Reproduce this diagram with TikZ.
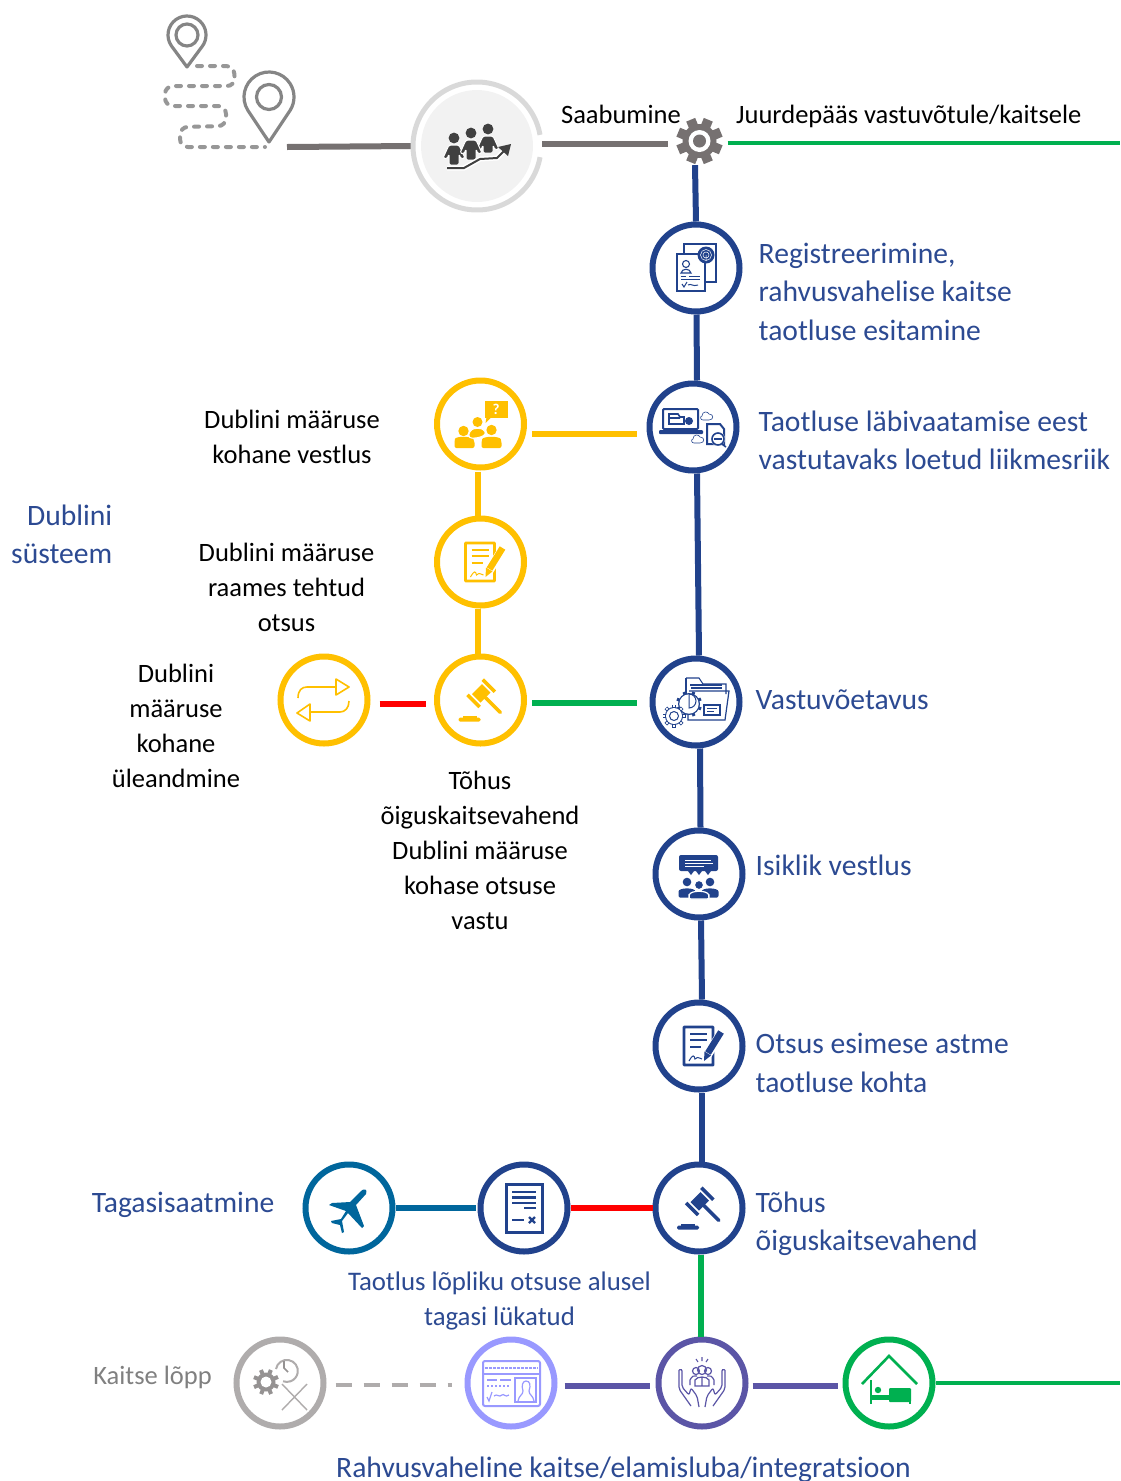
\documentclass[tikz,border=0pt]{standalone}
\usepackage{fontspec}
\setmainfont{Carlito}
\usetikzlibrary{calc}
\definecolor{navy}{HTML}{21428C}
\definecolor{navytext}{HTML}{2C4A92}
\definecolor{gold}{HTML}{FFC000}
\definecolor{emer}{HTML}{00B050}
\definecolor{teal2}{HTML}{00669C}
\definecolor{lav}{HTML}{9999FF}
\definecolor{purp}{HTML}{5B55A6}
\definecolor{gr}{HTML}{AFACAC}
\definecolor{pinc}{HTML}{858585}
\definecolor{linegray}{HTML}{767171}
\tikzset{
 x=1pt,y=-1pt,
 ring/.style={circle,draw=#1,line width=6pt,minimum size=87pt,inner sep=0pt,fill=white},
 conn/.style={line width=#1},
 blk/.style={font=\fontsize{26.5}{35}\selectfont,align=center,text=black,inner sep=0pt},
 blu/.style={font=\fontsize{29.6}{38.5}\selectfont,align=left,anchor=west,text=navytext,inner sep=0pt},
 bluc/.style={font=\fontsize{26.8}{35}\selectfont,align=center,text=navytext,inner sep=0pt},
 pics/gavel/.style={code={
  \begin{scope}[shift={(0.7,-6.7)},rotate=45]
   \fill[#1] (-7,-6) rectangle (7,6);
   \fill[#1] (-12.5,-8.5) rectangle (-9,8.5);
   \fill[#1] (9,-8.5) rectangle (12.5,8.5);
   \draw[#1,line width=3.5pt,line cap=round] (0,6) -- (0,27);
  \end{scope}
  \fill[#1,rounded corners=1.5pt] (-22,17.5) rectangle (0,21.5);
  \fill[#1] (-18,15.5) rectangle (-4,18);
 }},
 pics/docpen/.style={code={
  \draw[#1,line width=2.8pt,rounded corners=.5pt] (-15,-19) rectangle (14,19);
  \draw[#1,line width=2.6pt] (-9,-12) -- (8,-12) (-9,-6) -- (8,-6) (-9,1) -- (2,1);
  \draw[#1,line width=1pt] (-10,15) .. controls (-6,8) and (-5,9) .. (-4,13) .. controls (-2,11) .. (3,13);
  \draw[white,line width=9pt] (23,-14) -- (7,11);
  \draw[#1,line width=6.5pt] (22,-14) -- (9,7);
  \fill[#1] (5.5,5.5) -- (12,9.5) -- (5,15) -- cycle;
 }}
}
\newcommand{\gearshape}[6]{% x,y,R,r,hole,colour
 \foreach \a in {0,45,...,315}{\draw[#6,line width=#3*0.42pt] (#1,#2) -- ++(\a+22.5:#3);}
 \fill[#6] (#1,#2) circle (#4);
 \fill[white] (#1,#2) circle (#5);
}
\newcommand{\person}[5]{% x,y,head r,body half width,colour
 \fill[#5] (#1,#2) circle (#3);
 \fill[#5,rounded corners=2pt] ({#1-#4},{#2+#3*2+7}) -- ({#1-#4},{#2+#3*2+3}) .. controls ({#1-#4},{#2+#3+1}) and ({#1+#4},{#2+#3+1}) .. ({#1+#4},{#2+#3*2+3}) -- ({#1+#4},{#2+#3*2+7}) -- cycle;
}
\newcommand{\walker}[3]{% head x,y, total height
 \draw[white,line width=1pt,fill=black!75,line join=round,rounded corners=1.5pt]
   ({#1-5},{#2+7}) -- ({#1+5},{#2+7}) -- ({#1+11},{#2+20}) -- ({#1+7},{#2+21}) -- ({#1+5},{#2+16}) -- ({#1+5},{#2+#3}) -- ({#1-5},{#2+#3}) -- ({#1-5},{#2+16}) -- ({#1-7},{#2+21}) -- ({#1-11},{#2+20}) -- cycle;
 \fill[black!75] (#1,#2) circle (5.4);
}
\begin{document}
\begin{tikzpicture}
\useasboundingbox (0,0) rectangle (1120,1481);
\clip (0,0) rectangle (1120,1481);

% ---- hidden anchors
\coordinate (pinend) at (287,147);
\coordinate (rightA) at (1120,143);
\coordinate (rightB) at (1120,1383);

% ---- top pins and route
\draw[pinc,line width=3.2pt,line join=round] (187,67) -- ($(187,35)+(145:19)$) arc[start angle=145,end angle=395,radius=19] -- cycle;
\draw[pinc,line width=3.2pt] (187,35) circle (11);
\draw[pinc,line width=3.2pt,line join=round] (269,142) -- ($(269,97)+(148:25)$) arc[start angle=148,end angle=392,radius=25] -- cycle;
\draw[pinc,line width=3.2pt] (269,97) circle (12.5);
\draw[pinc!85,line width=4pt,line cap=round,dash pattern=on 5pt off 8pt,rounded corners=8pt]
  (197,66) -- (234,66) -- (235,86) -- (165,86) -- (165,106) -- (226,106) -- (226,126) -- (180,127) -- (180,147) -- (265,147);

% ---- nodes
\node[circle,fill=black!5,minimum size=112pt,inner sep=0pt] (arr) at (477,146) {};
\node[circle,minimum size=46pt,inner sep=0pt] (gear) at (699.5,141) {};
\node[ring=navy] (c1) at (696,268) {};
\node[ring=navy] (c2) at (693,427) {};
\node[ring=gold] (y1) at (480.5,424) {};
\node[ring=gold] (y2) at (480.5,562) {};
\node[ring=gold] (y3) at (480.5,700) {};
\node[ring=gold] (y4) at (324,700) {};
\node[ring=navy] (va) at (696,702) {};
\node[ring=navy] (is) at (699,874) {};
\node[ring=navy] (ot) at (699,1046) {};
\node[ring=navy] (co) at (699,1208) {};
\node[ring=navy] (dx) at (524,1208) {};
\node[ring=teal2] (pl) at (349,1208) {};
\node[ring=gr] (g1) at (280,1383) {};
\node[ring=lav] (g2) at (511,1383) {};
\node[ring=purp] (g3) at (702,1383) {};
\node[ring=emer] (g4) at (889,1383) {};

% ---- connectors
\draw[linegray,conn=6pt] (pinend) -- ([xshift=-9pt]arr.west);
\draw[linegray,conn=6pt] ([xshift=9pt,yshift=2pt]arr.east) -- ([xshift=-8pt,yshift=-3pt]gear.west);
\draw[black!15,line width=5pt] ($(477,146)+(10:64)$) arc[start angle=10,end angle=350,radius=64];
\draw[emer,conn=4pt] ([xshift=5pt,yshift=-2pt]gear.east) -- (rightA);
\draw[navy,conn=6pt] ([xshift=-4.5pt,yshift=-1pt]gear.south) -- (c1.north);
\draw[navy,conn=6pt] ([xshift=.5pt]c1.south) -- ([xshift=4pt]c2.north);
\draw[navy,conn=6pt] ([xshift=4pt]c2.south) -- ([xshift=3pt]va.north);
\draw[navy,conn=6pt] ([xshift=4pt]va.south) -- ([xshift=1.5pt]is.north);
\draw[navy,conn=6pt] ([xshift=2pt]is.south) -- ([xshift=3pt]ot.north);
\draw[navy,conn=6pt] ([xshift=3pt]ot.south) -- ([xshift=3pt]co.north);
\draw[emer,conn=6pt] ([xshift=2pt]co.south) -- ([xshift=-1pt]g3.north);
\draw[gold,conn=6pt] ([xshift=5pt,yshift=-10pt]y1.east) -- ([xshift=-10pt,yshift=-7pt]c2.west);
\draw[gold,conn=6pt] ([xshift=-2.5pt,yshift=-1pt]y1.south) -- ([xshift=-2.5pt]y2.north);
\draw[gold,conn=6pt] ([xshift=-2.5pt]y2.south) -- ([xshift=-2.5pt,yshift=-1pt]y3.north);
\draw[red,conn=6pt] ([xshift=9pt,yshift=-4pt]y4.east) -- ([xshift=-8pt,yshift=-4pt]y3.west);
\draw[emer,conn=6pt] ([xshift=5pt,yshift=-3pt]y3.east) -- ([xshift=-13pt,yshift=-1pt]va.west);
\draw[teal2,conn=6pt] (pl.east) -- ([xshift=-2pt]dx.west);
\draw[red,conn=6pt] (dx.east) -- (co.west);
\draw[gr,conn=4.5pt,dash pattern=on 16pt off 12pt] ([xshift=9pt,yshift=-2pt]g1.east) -- ([xshift=-13pt,yshift=-2pt]g2.west);
\draw[purp,conn=6pt] ([xshift=7pt,yshift=-3pt]g2.east) -- ([xshift=-6pt,yshift=-3pt]g3.west);
\draw[purp,conn=6pt] ([xshift=4pt,yshift=-3pt]g3.east) -- ([xshift=-5pt,yshift=-3pt]g4.west);
\draw[emer,conn=4pt] (g4.east) -- (rightB);

% ---- gear main
\gearshape{699.5}{141}{23}{17}{11}{linegray}
\fill[linegray] (699.5,141) circle (6.5);

% ---- arrival icon
\walker{454}{138}{27}
\walker{488}{129}{24}
\walker{471}{133}{27}
\draw[white,line width=5pt] (447,168) -- (464,168) -- (480,159) -- (497,158) -- (508,147);
\draw[black!75,line width=2pt] (447,168) -- (464,168) -- (480,159) -- (497,158) -- (506,149);
\fill[black!75] (511,144) -- (498,147) -- (508,156) -- cycle;

% ---- c1 icon: registration
\begin{scope}[shift={(c1)}]
 \draw[navy,line width=2pt] (-12,-24) rectangle (20,14);
 \fill[white] (-20,-15) rectangle (10,24);
 \draw[navy,line width=1.3pt] (-19,-14) rectangle (9,23);
 \fill[navy] (10,-13) circle (8.5);
 \draw[white,line width=.5pt] (10,-13) circle (5.5) (10,-13) circle (3) (10,-13) -- (10,-7);
 \draw[navy,line width=1.1pt] (-10,-4) circle (3.5);
 \draw[navy,line width=1.1pt] (-15,5) .. controls (-14,0) and (-6,0) .. (-5,5) -- cycle;
 \draw[navy,line width=1pt] (-15,8) -- (-10,8) (-7,8) -- (4,8) (-15,11) -- (4,11);
 \draw[navy,line width=1pt] (-14,16) -- (-12,19) -- (-9,14) (-8,17) .. controls (-5,15) and (-3,19) .. (2,17);
\end{scope}

% ---- c2 icon: laptop and files
\begin{scope}[shift={(c2)}]
 \draw[navy,line width=2pt,rounded corners=1pt] (-30,-18) rectangle (5,2);
 \fill[navy,rounded corners=1pt] (-34,3) rectangle (10,7);
 \draw[navy,line width=1.6pt] (-24,-13) -- (-15,-13) -- (-13,-10) -- (-9,-10) -- (-9,-3) -- (-24,-3) -- cycle (-24,-9) -- (-13,-9);
 \fill[navy] (-4,-6) circle (4);
 \draw[navy,line width=.6pt] (9,-11) .. controls (9,-16) and (15,-16) .. (16,-13) .. controls (21,-13) and (21,-7) .. (16,-7) -- (10,-7) .. controls (7,-7) and (7,-11) .. (9,-11);
 \draw[navy,line width=.6pt] (0,12) .. controls (0,7) and (6,7) .. (7,10) .. controls (12,10) and (12,16) .. (7,16) -- (1,16) .. controls (-2,16) and (-2,12) .. (0,12);
 \draw[navy,line width=2pt] (14,-3) -- (27,-3) -- (31,2) -- (31,17) -- (14,17) -- cycle;
 \fill[white] (25,12) circle (7);
 \draw[navy,line width=1.6pt] (25,12) circle (6);
 \draw[navy,line width=1.2pt] (21,12) -- (29,12);
 \draw[navy,line width=1.6pt] (29,17) -- (33,20);
\end{scope}

% ---- yellow icons
\begin{scope}[shift={(y1)}]
 \fill[gold] (4,-23) rectangle (27,-6);
 \fill[gold] (6,-7) -- (11,-7) -- (5,-1) -- cycle;
 \node[font=\bfseries\fontsize{15}{15}\selectfont,text=white,inner sep=0pt] (q) at (15.5,-14.5) {?};
 \fill[gold] (-17,7) circle (5.2);
 \fill[gold] (11,6) circle (5.2);
 \fill[gold,rounded corners=2pt] (-26,24) -- (-26,17) .. controls (-25,12) and (-9,12) .. (-6,17) -- (-6,24) -- cycle;
 \fill[gold,rounded corners=2pt] (1,24) -- (1,17) .. controls (3,12) and (19,12) .. (21,17) -- (21,24) -- cycle;
 \fill[gold] (-3,-2) circle (5);
 \draw[white,line width=1pt,fill=gold,rounded corners=3pt] (-12,14) -- (-11,7) .. controls (-6,4) and (0,4) .. (5,7) -- (5,11) -- (-3,14) -- cycle;
\end{scope}
\pic at (y2) {docpen=gold};
\pic at (y3) {gavel=gold};
\begin{scope}[shift={(y4)}]
 \draw[gold,line width=1.6pt,line join=round] (-26,-2) .. controls (-26,-10) and (-22,-13) .. (-17,-13) -- (12,-13);
 \draw[gold,line width=1.6pt,line join=round] (12,-21) -- (25,-13) -- (12,-5) -- cycle;
 \draw[gold,line width=1.6pt,line join=round] (25,1) .. controls (25,8) and (21,12) .. (16,12) -- (-14,12);
 \draw[gold,line width=1.6pt,line join=round] (-14,4) -- (-27,13) -- (-14,21) -- cycle;
\end{scope}

% ---- vastuvoetavus icon
\begin{scope}[shift={(va)}]
 \draw[navy,line width=1.1pt] (-10,-24) -- (3,-24) -- (7,-18) -- (30,-18) -- (30,-8);
 \draw[navy,line width=1.1pt] (-10,-24) -- (-10,-2);
 \draw[navy,line width=1.2pt] (-6,-17) -- (26,-17) (-5,-14) -- (26,-14);
 \draw[navy,line width=1.2pt] (-7,-11) -- (33,-11) -- (29,18) -- (-8,18) -- (-8,10);
 \draw[navy,line width=1.1pt] (8,3) rectangle (24,13);
 \draw[navy,line width=.8pt] (11,6.5) -- (21,6.5) (11,9.5) -- (18,9.5);
 \foreach \a in {0,45,...,315}{\draw[navy,line width=3pt] (-7,2) -- ++(\a+22:13);}
 \fill[navy] (-7,2) circle (11);
 \fill[white] (-7,2) circle (9.7);
 \draw[navy,line width=1pt] (-7,-8) arc[start angle=270,end angle=450,radius=7] -- cycle;
 \foreach \a in {0,45,...,315}{\draw[navy,line width=3.6pt] (-22,14) -- ++(\a:11.5);
  \draw[white,line width=1.8pt] (-22,14) -- ++(\a:10.8);}
 \fill[navy] (-22,14) circle (9);
 \fill[white] (-22,14) circle (8);
 \draw[navy,line width=1pt] (-22,14) circle (4.5);
\end{scope}

% ---- isiklik vestlus icon
\begin{scope}[shift={(is)}]
 \fill[navy,rounded corners=2pt] (-20,-19) rectangle (19,-3);
 \draw[white,line width=.9pt] (-14,-14) -- (12,-14) (-14,-11) -- (14,-11) (-14,-8) -- (5,-8);
 \fill[navy] (-11,-3) -- (-5,-3) -- (-8,1) -- cycle (-3,-3) -- (3,-3) -- (0,1) -- cycle (6,-3) -- (12,-3) -- (9,1) -- cycle;
 \person{-12}{8}{4.3}{8.5}{navy}
 \person{11}{8}{4.3}{8.5}{navy}
 \draw[white,line width=1.2pt,fill=navy] (0,11) circle (4.6);
 \draw[white,line width=1.2pt,fill=navy,rounded corners=2pt] (-10,25) -- (-10,23) .. controls (-9,16) and (9,16) .. (10,23) -- (10,25) -- cycle;
\end{scope}

% ---- decision, court icons
\pic at (ot) {docpen=navy};
\pic at (co) {gavel=navy};

% ---- rejected document
\begin{scope}[shift={(dx)}]
 \draw[navy,line width=3pt] (-18,-24) rectangle (18,24);
 \draw[navy,line width=2.3pt] (-12,-16) -- (12,-16) (-12,-10.5) -- (12,-10.5) (-12,-5) -- (12,-5) (0,0) -- (12,0) (-12,12) -- (0,12);
 \draw[navy,line width=2.3pt] (5,9) -- (11,15) (11,9) -- (5,15);
\end{scope}

% ---- plane
\begin{scope}[shift={(pl)}]
 \fill[teal2,line join=round] (-20,-3) -- (-17,-5) -- (1,-6) -- (12,-17) .. controls (15,-20) and (19,-19) .. (17,-14) -- (7,-3) -- (15,18) -- (13,20) -- (-1,5) -- (-7,13) -- (-5,24) -- (-7,25) -- (-9,17) -- (-17,15) -- (-18,13) -- (-8,11) -- (-3,3) -- cycle;
\end{scope}

% ---- end of protection
\begin{scope}[shift={(g1)}]
 \foreach \a in {0,45,...,315}{\draw[gr!85!black,line width=4pt] (-14,-1) -- ++(\a+22:13);}
 \fill[gr!85!black] (-14,-1) circle (9.5);
 \fill[white] (-14,-1) circle (5.5);
 \draw[gr,line width=2pt] (-4,-14) arc[start angle=190,end angle=470,radius=11];
 \draw[gr!85!black,line width=1.6pt] (4,-22) -- (4,-15) -- (8,-11);
 \draw[gr,line width=1.4pt] (2,1) -- (27,27) (27,1) -- (2,27);
\end{scope}
\begin{scope}[shift={(g2)}]
 \draw[lav,line width=2pt,rounded corners=2pt] (-28,-22) rectangle (29,23);
 \draw[lav,line width=2pt] (-28,-9) -- (29,-9);
 \draw[lav,line width=2.2pt,dash pattern=on 2.6pt off 1.4pt] (-26,-15) -- (27,-15);
 \draw[lav,line width=1.6pt] (4,-5) rectangle (25,19);
 \draw[lav,line width=1.2pt] (7,18) .. controls (8,12) and (12,12) .. (12,8) .. controls (10,2) and (12,-2) .. (15,-2) .. controls (19,-2) and (20,2) .. (18,8) .. controls (18,12) and (22,12) .. (23,18);
 \draw[lav,line width=1.6pt] (-24,-3) -- (-14,-3) (-11,-3) -- (0,-3);
 \draw[lav,line width=1.8pt,dash pattern=on 2pt off 2pt] (-24,3) -- (-1,3);
 \draw[lav,line width=1.2pt] (-24,14) -- (-22,18) -- (-19,9) (-17,13) .. controls (-14,10) and (-12,15) .. (-9,12) .. controls (-7,10) and (-6,15) .. (-2,12);
\end{scope}
\begin{scope}[shift={(g3)}]
 \draw[purp,line width=1.2pt,rounded corners=2pt] (-23,-13) -- (-20,-14) -- (-20,4) -- (-13,12) -- (-11,5) -- (-5,13) -- (-3,24);
 \draw[purp,line width=1.2pt,rounded corners=2pt] (-23,-13) -- (-23,6) -- (-11,23);
 \draw[purp,line width=1.2pt,rounded corners=2pt] (23,-13) -- (20,-14) -- (20,4) -- (13,12) -- (11,5) -- (5,13) -- (3,24);
 \draw[purp,line width=1.2pt,rounded corners=2pt] (23,-13) -- (23,6) -- (11,23);
 \draw[purp,line width=1.2pt] (-6,-12) circle (3.5) (6,-12) circle (3.5) (0,-13) circle (4.5);
 \draw[purp,line width=1.2pt] (-12,2) -- (-12,-3) .. controls (-10,-7) and (-8,-8) .. (-5,-7) (12,2) -- (12,-3) .. controls (10,-7) and (8,-8) .. (5,-7);
 \draw[purp,line width=1.2pt] (-7,3) -- (-7,-3) .. controls (-5,-7) and (5,-7) .. (7,-3) -- (7,3) -- cycle (0,-6) -- (0,3);
 \draw[purp,line width=1.1pt] (0,-26) -- (0,-22) (-6,-24) -- (-4,-21) (6,-24) -- (4,-21);
\end{scope}
\begin{scope}[shift={(g4)}]
 \draw[emer,line width=2.6pt] (-27,1) -- (0,-27) -- (28,1);
 \draw[emer,line width=2.4pt] (-18,-3) -- (-18,21);
 \fill[emer] (-18,12) rectangle (22,17);
 \fill[emer,rounded corners=1pt] (0,5) rectangle (22,19);
 \fill[emer] (20,17) rectangle (22,21);
 \fill[emer] (-11,7) circle (3.2);
\end{scope}

% ---- texts
\node[blk] (t1) at (621,114) {Saabumine};
\node[blk,anchor=west] (t2) at (736,116) {Juurdepääs vastuvõtule/kaitsele};
\node[blu] (t3) at (758.5,291.5) {Registreerimine,\\rahvusvahelise kaitse\\taotluse esitamine};
\node[blu] (t4) at (758.5,440.5) {Taotluse läbivaatamise eest\\vastutavaks loetud liikmesriik};
\node[blk] (t5) at (292,437) {Dublini määruse\\kohane vestlus};
\node[blk] (t6) at (286.5,587) {Dublini määruse\\raames tehtud\\otsus};
\node[blu,align=right,anchor=east] (t7) at (112.5,534.5) {Dublini\\süsteem};
\node[blk] (t8) at (176,726) {Dublini\\määruse\\kohane\\üleandmine};
\node[blk] (t9) at (480,850) {Tõhus\\õiguskaitsevahend\\Dublini määruse\\kohase otsuse\\vastu};
\node[blu] (t10) at (755.5,700) {Vastuvõetavus};
\node[blu] (t11) at (755.5,865) {Isiklik vestlus};
\node[blu] (t12) at (755.5,1063) {Otsus esimese astme\\taotluse kohta};
\node[blu] (t13) at (755.5,1224) {Tõhus\\õiguskaitsevahend};
\node[blu,anchor=east] (t14) at (274.5,1205) {Tagasisaatmine};
\node[bluc] (t15) at (499.5,1300.5) {Taotlus lõpliku otsuse alusel\\tagasi lükatud};
\node[blk,text=gray,anchor=east] (t16) at (212,1377) {Kaitse lõpp};
\node[blu,anchor=center] (t17) at (623.5,1470) {Rahvusvaheline kaitse/elamisluba/integratsioon};
\end{tikzpicture}
\end{document}
